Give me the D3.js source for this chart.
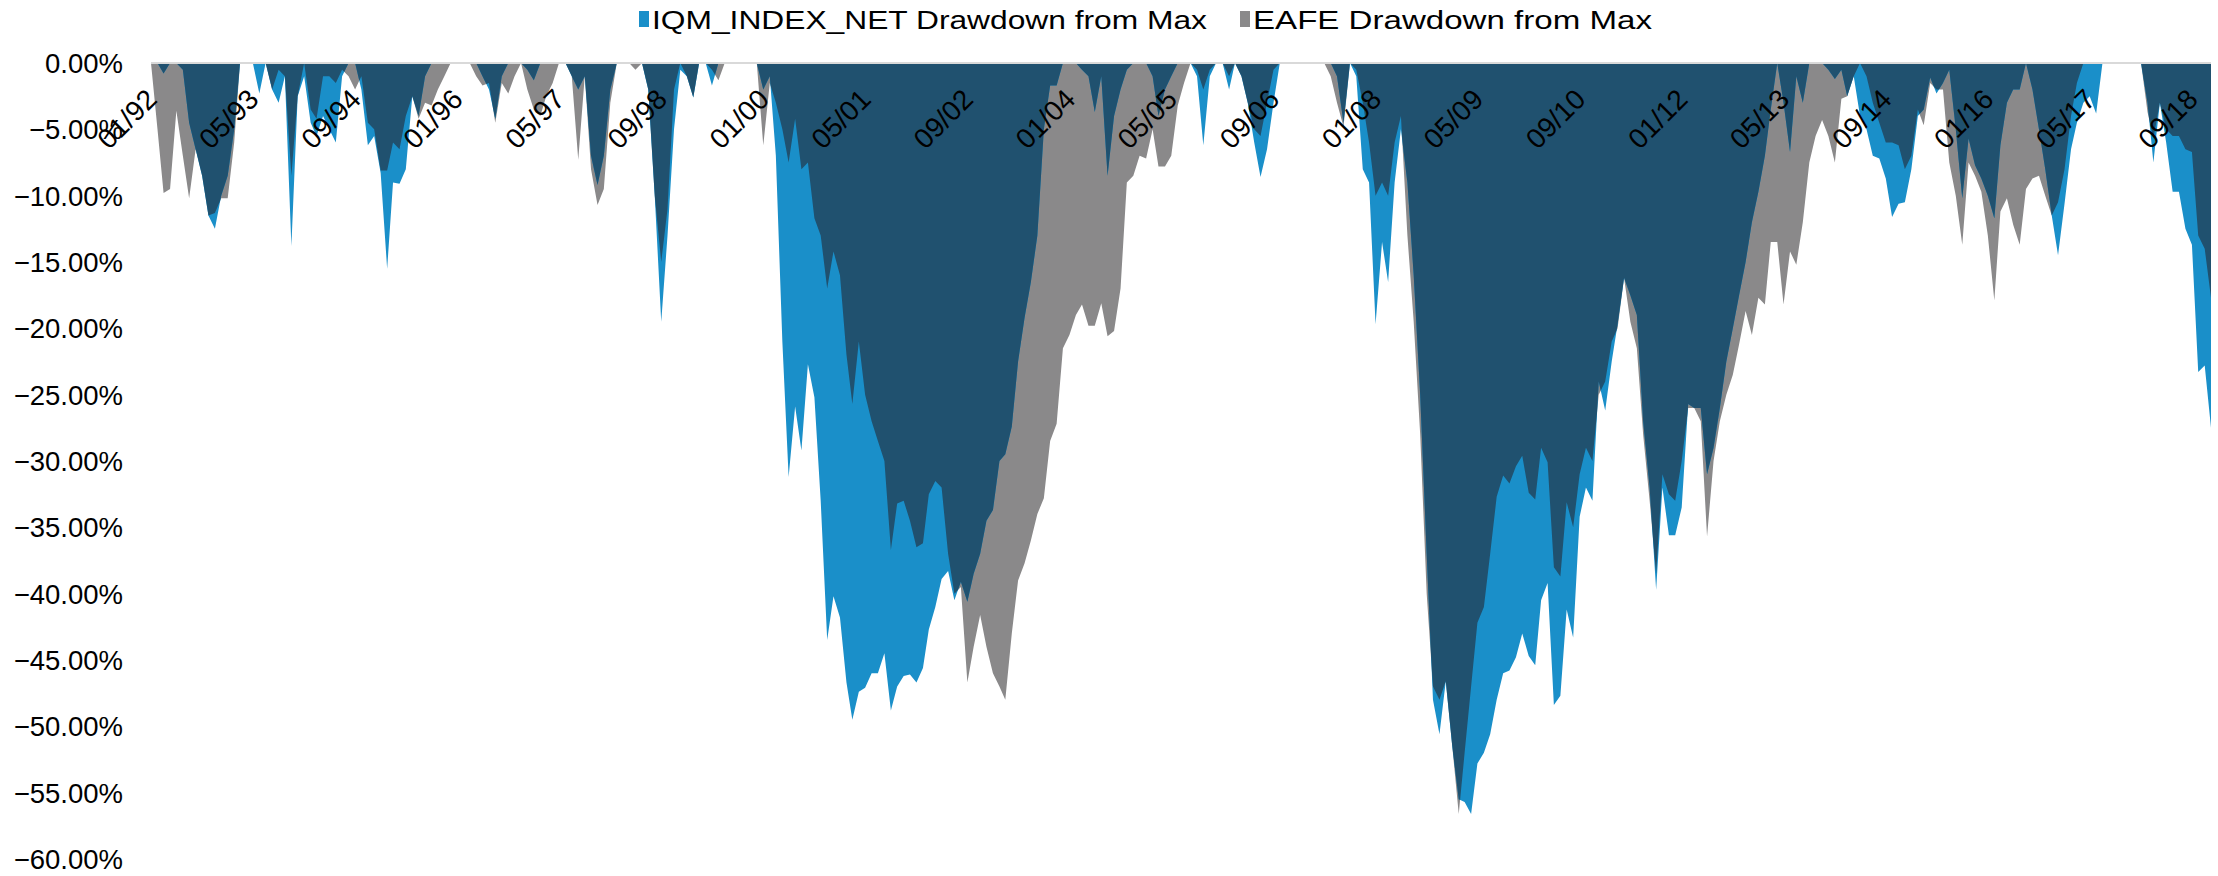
<!DOCTYPE html>
<html>
<head>
<meta charset="utf-8">
<script src="https://cdn.jsdelivr.net/npm/d3@7"></script>
<style>
  html, body { margin: 0; padding: 0; background: #ffffff; }
  svg { display: block; }
  text { font-family: "Liberation Sans", Arial, Helvetica, sans-serif; fill: #000000; }
</style>
</head>
<body>
<svg id="chart" width="2218" height="876"></svg>
<script>
// Monthly drawdown from running maximum, in percent, January 1992 – December 2018.
const firstMonth = new Date(1992, 0, 1);

const iqmDrawdown = [
  // 1992
  0, 0, -0.8, 0, 0, -0.5, -4.5, -6.5, -8.5, -11.5, -12.5, -10.0,
  // 1993
  -8.5, -5, 0, 0, 0, -2.3, 0, -2, -3, -1, -13.8, -2.5,
  // 1994
  -1, -4.5, -5.5, -4, -5, -6, -1, 0, 0, -2, -6.2, -5.5,
  // 1995
  -8.3, -15.5, -9, -9.1, -8, -2.5, -4, -1, 0, 0, 0, 0,
  // 1996
  0, 0, 0, 0, -1, -2, -4.2, -1, 0, 0, 0, -0.5,
  // 1997
  -1.3, 0, 0, 0, 0, 0, -1, -2, -1, -7, -9.2, -7,
  // 1998
  -2, 0, 0, 0, 0, 0, -2, -10, -19.5, -13, -5, -0.5,
  // 1999
  -1, -2.6, 0, 0, -1.7, 0, 0, 0, 0, 0, 0, 0,
  // 2000
  -2, -1, -7, -21, -31.2, -25.9, -29.2, -22.7, -25.2, -33, -43.5, -40.2,
  // 2001
  -41.8, -46.7, -49.5, -47.4, -47.1, -46, -46, -44.5, -48.8, -47, -46.2, -46.1,
  // 2002
  -46.7, -45.6, -42.7, -41, -38.9, -38.3, -40.5, -39.1, -40.6, -38.5, -37, -34.5,
  // 2003
  -33.7, -30, -29.5, -27.4, -22.5, -19.2, -16.5, -13, -5, -1.7, -1.7, 0,
  // 2004
  0, 0, -0.5, -1, -3.7, -1, -8.5, -4, -2, -0.5, 0, 0,
  // 2005
  0, -1, -4, -2, -1, 0, 0, 0, -1, -6.2, -1, 0,
  // 2006
  0, -2, 0, -1, -3, -6, -8.6, -6.5, -3, 0, 0, 0,
  // 2007
  0, 0, 0, 0, 0, 0, -1, -4.5, 0, -1, -8, -9,
  // 2008
  -19.7, -13.5, -16.5, -9, -5, -9, -16, -25, -37, -48, -50.6, -46.6,
  // 2009
  -51.5, -55.5, -55.7, -56.6, -52.8, -52, -50.6, -48, -46, -45.8, -44.8, -43,
  // 2010
  -44.7, -45.4, -40.5, -39.2, -48.4, -47.7, -41.2, -43.3, -34.2, -32, -33, -24,
  // 2011
  -26.2, -22.5, -19.7, -16.2, -17.5, -19, -27, -32, -39.7, -32, -35.6, -35.6,
  // 2012
  -33.5, -25.7, -26, -26, -31, -29, -26, -22.5, -20, -17.5, -15, -12,
  // 2013
  -9.7, -7, -3.5, 0, -3, -6.7, -1, -3, 0, 0, 0, -0.5,
  // 2014
  -1.2, -0.5, -2.5, -1, -4, -5, -7, -7.2, -8.7, -11.6, -10.6, -10.5,
  // 2015
  -8, -4, -3.5, -1.1, -2.3, -1.5, -0.5, -5, -10.2, -5.7, -7.7, -8.7,
  // 2016
  -10, -11.7, -6.2, -3, -2, -2, 0, -2, -5, -8, -11.5, -14.5,
  // 2017
  -10.6, -6.5, -4.5, -3, -2.5, -3.8, 0, 0, 0, 0, 0, 0,
  // 2018
  0, -3, -7.5, -3, -6, -9.7, -9.7, -12.5, -13.7, -23.3, -22.8, -27.5
];

const eafeDrawdown = [
  // 1992
  0, -5, -9.8, -9.5, -3.6, -7, -10.2, -6.5, -8.5, -11.5, -11.3, -10.2,
  // 1993
  -10.2, -6, 0, 0, 0, 0, 0, -2, -0.5, -1, -8.5, -2.5,
  // 1994
  0, -3.5, -4.2, -1, -1, -1.5, -0.5, -1, -2, -1, -4.5, -5,
  // 1995
  -8.1, -8.1, -6, -6.5, -4, -2.5, -4.2, -3, -3.2, -2, -1, 0,
  // 1996
  0, 0, 0, -1, -1.7, -1.5, -4.5, -1.5, -2.3, -1, 0, -2,
  // 1997
  -3.5, -4, -2.5, -1.5, 0, 0, -1, -7.3, -1, -8, -10.7, -9.5,
  // 1998
  -3, 0, 0, 0, -0.5, 0, -2, -10, -15, -11, -2, 0,
  // 1999
  -1, -2.6, 0, 0, -0.5, -1.3, 0, 0, 0, 0, 0, 0,
  // 2000
  -6.2, -1.5, -3, -5, -7.5, -4.2, -8, -7.5, -11.7, -13, -17, -14.2,
  // 2001
  -16, -22, -25.7, -21, -25, -27, -28.5, -30, -36.7, -33.2, -33, -34.5,
  // 2002
  -36.5, -36.2, -32.5, -31.5, -32, -37, -40, -39.5, -46.7, -44, -41.6, -44,
  // 2003
  -46, -47, -48, -43, -39, -37.7, -36, -34, -32.8, -28.5, -27.2, -21.5,
  // 2004
  -20.5, -19, -18.2, -19.8, -19.8, -18.1, -20.6, -20.2, -17, -9, -8.5, -7,
  // 2005
  -7.2, -5, -7.8, -7.8, -7, -3.2, -1.5, 0, -0.5, -2, -0.5, 0,
  // 2006
  0, -1, 0, -1, -3, -5, -5.5, -3, -0.5, 0, 0, 0,
  // 2007
  0, 0, 0, 0, 0, -1, -3, -4.8, 0, -0.5, -3, -6,
  // 2008
  -10, -9, -10, -6, -4, -13, -19.5, -28, -40, -47, -48, -46.6,
  // 2009
  -51.5, -56.6, -52, -47, -42.2, -41, -37, -32.7, -31.1, -31.7, -30.4, -29.6,
  // 2010
  -32.4, -32.9, -29, -30.1, -38, -38.7, -33.1, -35, -31, -29, -30, -25,
  // 2011
  -24, -21, -20, -16.2, -19.5, -21.5, -28, -33, -38.5, -31, -32.5, -33,
  // 2012
  -30, -26, -26, -27, -35.7, -30, -27, -25, -23.5, -21.2, -18.7, -20.5,
  // 2013
  -17.7, -18.2, -13.5, -13.5, -18.2, -14.2, -15.2, -12, -7.5, -5.5, -4.3, -5.5,
  // 2014
  -7.5, -2.7, -2.5, -1, 0, -1, -3, -4.5, -6, -6, -6.2, -8,
  // 2015
  -7, -3.5, -4.7, -1.5, -2, -2, -7.5, -10, -13.7, -7.5, -8.5, -9.7,
  // 2016
  -13, -17.9, -11.2, -10.2, -12.2, -13.7, -9.5, -8.7, -8.5, -10, -11.5, -10.5,
  // 2017
  -8, -4, -1.5, 0, 0, 0, 0, 0, 0, 0, 0, 0,
  // 2018
  0, -3.7, -5.7, -3, -5, -5.5, -5.5, -6.5, -6.7, -13, -14, -17.7
];

const seriesLabels = ["IQM_INDEX_NET Drawdown from Max", "EAFE Drawdown from Max"];
const yTickValues = [0, -5, -10, -15, -20, -25, -30, -35, -40, -45, -50, -55, -60];
const monthsBetweenLabels = 16;

const colors = { iqm: "#1a8fc9", eafe: "#8a898a", both: "#20516f", axis: "#d9d9d9" };

const plot = { left: 151, right: 2211, top: 63, bottom: 859 };

const svg = d3.select("#chart");

const rows = iqmDrawdown.map((v, i) => ({
  date: d3.timeMonth.offset(firstMonth, i),
  iqm: v,
  eafe: eafeDrawdown[i]
}));

const x = d3.scaleTime()
  .domain([rows[0].date, rows[rows.length - 1].date])
  .range([plot.left, plot.right]);

const y = d3.scaleLinear()
  .domain([0, -60])
  .range([plot.top, plot.bottom]);

const areaOf = key => d3.area()
  .x(d => x(d.date))
  .y0(y(0))
  .y1(d => y(d[key]));

const defs = svg.append("defs");
defs.append("clipPath").attr("id", "eafe-clip")
  .append("path").attr("d", areaOf("eafe")(rows));

const marks = svg.append("g").attr("class", "areas");
marks.append("path").attr("d", areaOf("eafe")(rows)).attr("fill", colors.eafe);
marks.append("path").attr("d", areaOf("iqm")(rows)).attr("fill", colors.iqm);
// where both series are under water at once, the shared depth is drawn dark
marks.append("path").attr("d", areaOf("iqm")(rows)).attr("fill", colors.both)
  .attr("clip-path", "url(#eafe-clip)");

// zero line
svg.append("line")
  .attr("x1", plot.left).attr("x2", plot.right)
  .attr("y1", y(0)).attr("y2", y(0))
  .attr("stroke", colors.axis).attr("stroke-width", 2);

// y axis labels
const yAxis = d3.axisLeft(y)
  .tickValues(yTickValues)
  .tickSize(0)
  .tickPadding(0)
  .tickFormat(d => d3.format(".2f")(d) + "%");
const yg = svg.append("g").attr("transform", "translate(123,0)").call(yAxis);
yg.select(".domain").remove();
yg.selectAll(".tick text")
  .attr("font-size", 27.5)
  .attr("font-family", "'Liberation Sans', Arial, sans-serif")
  .attr("fill", "#000")
  .attr("x", 0)
  .attr("dy", "0.34em");

// x axis labels, rotated, sitting just under the zero line
const labelDates = d3.range(0, rows.length, monthsBetweenLabels).map(i => rows[i].date);
const xAxis = d3.axisBottom(x)
  .tickValues(labelDates)
  .tickSize(0)
  .tickFormat(d3.timeFormat("%m/%y"));
const xg = svg.append("g").attr("transform", `translate(0,${y(0)})`).call(xAxis);
xg.select(".domain").remove();
xg.selectAll("text")
  .attr("font-size", 28)
  .attr("font-family", "'Liberation Sans', Arial, sans-serif")
  .attr("fill", "#000")
  .attr("text-anchor", "end")
  .attr("x", 0).attr("y", 0).attr("dy", 0)
  .attr("transform", "translate(7,38) rotate(-45)");

// legend
const legend = svg.append("g").attr("class", "legend");
const legendItems = [
  { label: seriesLabels[0], color: colors.iqm, x: 639, width: 555 },
  { label: seriesLabels[1], color: colors.eafe, x: 1240, width: 399 }
];
legendItems.forEach(item => {
  const g = legend.append("g").attr("transform", `translate(${item.x},0)`);
  g.append("rect").attr("x", 0).attr("y", 11).attr("width", 10).attr("height", 16).attr("fill", item.color);
  g.append("text").attr("x", 13).attr("y", 29)
    .attr("font-size", 26)
    .attr("textLength", item.width)
    .attr("lengthAdjust", "spacingAndGlyphs")
    .text(item.label);
});
</script>
</body>
</html>
